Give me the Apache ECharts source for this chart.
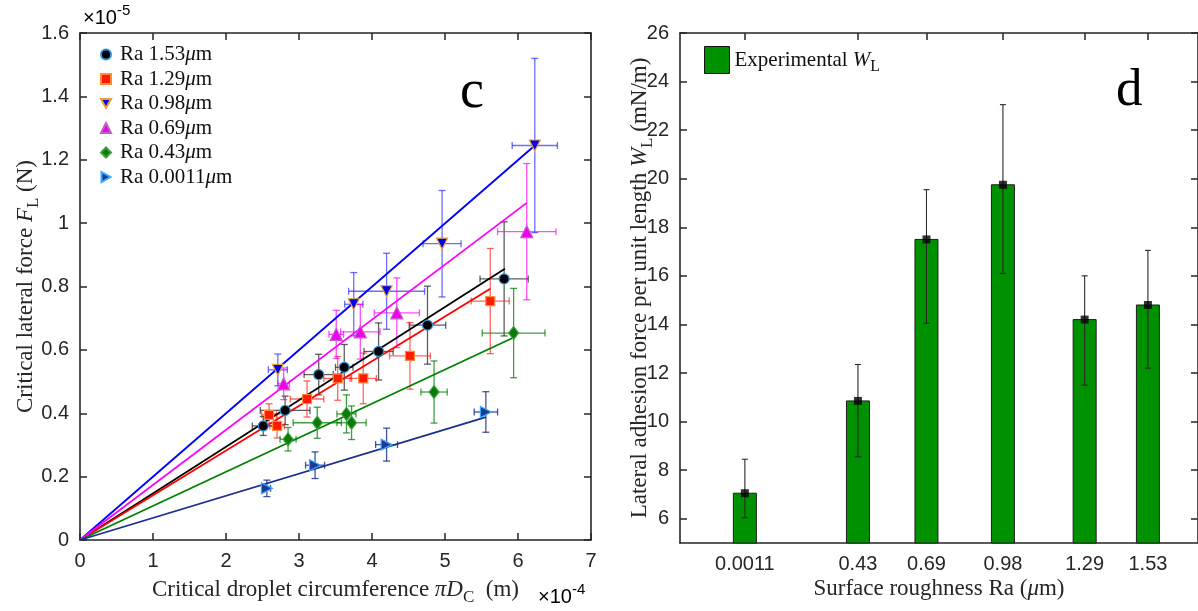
<!DOCTYPE html>
<html><head><meta charset="utf-8">
<script src="https://cdn.jsdelivr.net/npm/echarts@6/dist/echarts.min.js"></script>
<style>html,body{margin:0;padding:0;background:#fff}#c{width:1198px;height:611px}</style>
</head><body><div id="c"></div>
<script>
// ---------- data: panel c (x in 1e-4 m, y in 1e-5 N) ----------
const legendLabels = ['Ra 1.53μm','Ra 1.29μm','Ra 0.98μm','Ra 0.69μm','Ra 0.43μm','Ra 0.0011μm'];

const ra153X  = [2.51, 2.81, 3.27, 3.62, 4.09, 4.76, 5.81];
const ra153Y  = [0.360, 0.409, 0.522, 0.545, 0.595, 0.678, 0.824];
const ra153Ex = [0.15, 0.34, 0.20, 0.12, 0.20, 0.25, 0.33];
const ra153Ey = [0.030, 0.045, 0.064, 0.072, 0.090, 0.123, 0.180];

const ra129X  = [2.59, 2.70, 3.11, 3.53, 3.88, 4.52, 5.62];
const ra129Y  = [0.395, 0.360, 0.445, 0.510, 0.510, 0.581, 0.754];
const ra129Ex = [0.10, 0.10, 0.23, 0.19, 0.18, 0.28, 0.26];
const ra129Ey = [0.035, 0.038, 0.057, 0.069, 0.080, 0.105, 0.166];

const ra098X  = [2.71, 3.75, 4.20, 4.96, 6.23];
const ra098Y  = [0.537, 0.744, 0.785, 0.935, 1.245];
const ra098Ex = [0.13, 0.125, 0.52, 0.26, 0.31];
const ra098Ey = [0.050, 0.100, 0.120, 0.168, 0.275];

const ra069X  = [2.79, 3.51, 3.84, 4.34, 6.12];
const ra069Y  = [0.493, 0.649, 0.657, 0.717, 0.973];
const ra069Ex = [0.08, 0.10, 0.27, 0.31, 0.40];
const ra069Ey = [0.050, 0.076, 0.086, 0.110, 0.215];

const ra043X  = [2.85, 3.25, 3.65, 3.72, 4.85, 5.94];
const ra043Y  = [0.318, 0.370, 0.398, 0.370, 0.467, 0.653];
const ra043Ex = [0.11, 0.33, 0.13, 0.20, 0.18, 0.43];
const ra043Ey = [0.037, 0.049, 0.060, 0.053, 0.098, 0.141];

const ra0011X  = [2.56, 3.22, 4.20, 5.56];
const ra0011Y  = [0.163, 0.236, 0.301, 0.404];
const ra0011Ex = [0.05, 0.13, 0.15, 0.16];
const ra0011Ey = [0.026, 0.042, 0.052, 0.064];

// fitted lines through origin: end points
const fitEndX = [5.82, 5.62, 6.23, 6.12, 5.94, 5.56];
const fitEndY = [0.856, 0.793, 1.245, 1.064, 0.639, 0.388];

// ---------- data: panel d ----------
const raValues = [0.0011, 0.43, 0.69, 0.98, 1.29, 1.53];
const raLabels = ['0.0011','0.43','0.69','0.98','1.29','1.53'];
const wL     = [7.05, 10.85, 17.5, 19.75, 14.2, 14.8];
const wLLow  = [6.04, 8.55, 14.05, 16.1, 11.5, 12.2];
const wLHigh = [8.45, 12.35, 19.55, 23.05, 16.0, 17.05];
const yTicksD = [6,8,10,12,14,16,18,20,22,24,26];

// ---------- styling ----------
const SERIF = 'Liberation Serif';
const SANS = 'Liberation Sans';
const AX = '#262626';
const Y2MIN = 5, Y2MAX = 26;

const groupX = [ra153X, ra129X, ra098X, ra069X, ra043X, ra0011X];
const groupY = [ra153Y, ra129Y, ra098Y, ra069Y, ra043Y, ra0011Y];
const groupEx = [ra153Ex, ra129Ex, ra098Ex, ra069Ex, ra043Ex, ra0011Ex];
const groupEy = [ra153Ey, ra129Ey, ra098Ey, ra069Ey, ra043Ey, ra0011Ey];
const DOWN = 'path://M0,0L10,0L5,9Z';
const RIGHT = 'path://M0,0L9,5L0,10Z';
const styles = [
  {symbol:'circle',   icon:'circle',   size:10, rot:0,   fill:'#000000', edge:'#2f8fd8', err:'rgba(40,40,40,0.75)',  line:'#000000'},
  {symbol:'rect',     icon:'rect',     size:9,  rot:0,   fill:'#ff1a00', edge:'#ff8a3a', err:'rgba(255,20,20,0.65)', line:'#ff0000'},
  {symbol:'triangle', icon:DOWN,       size:11, rot:180, fill:'#0000ee', edge:'#e8a030', err:'rgba(30,30,255,0.65)', line:'#0000ff'},
  {symbol:'triangle', icon:'triangle', size:12, rot:0,   fill:'#ee00ee', edge:'#c060c0', err:'rgba(255,0,255,0.7)',  line:'#ff00ff'},
  {symbol:'diamond',  icon:'diamond',  size:[10,13], rot:0, fill:'#0b7a0b', edge:'#3aa03a', err:'rgba(0,128,0,0.75)', line:'#008000'},
  {symbol:'triangle', icon:RIGHT,      size:11, rot:-90, fill:'#1c3a96', edge:'#3aa8ff', err:'rgba(20,40,140,0.8)', line:'#1a2f8f'}
];

function errXY(color){
  return function(params, api){
    const x=api.value(0), y=api.value(1), ex=api.value(2), ey=api.value(3);
    const L=api.coord([x-ex,y]), R=api.coord([x+ex,y]), T=api.coord([x,y+ey]), B=api.coord([x,y-ey]);
    const c=3.5, st={stroke:color,lineWidth:1.3};
    const seg=(x1,y1,x2,y2)=>({type:'line',shape:{x1:x1,y1:y1,x2:x2,y2:y2},style:st});
    return {type:'group',children:[
      seg(L[0],L[1],R[0],R[1]), seg(T[0],T[1],B[0],B[1]),
      seg(L[0],L[1]-c,L[0],L[1]+c), seg(R[0],R[1]-c,R[0],R[1]+c),
      seg(T[0]-c,T[1],T[0]+c,T[1]), seg(B[0]-c,B[1],B[0]+c,B[1])
    ]};
  };
}

const series = [];
for (let g=0; g<6; g++){
  const s = styles[g];
  series.push({
    type:'custom', xAxisIndex:0, yAxisIndex:0, z:2, silent:true,
    renderItem: errXY(s.err),
    data: groupX[g].map((x,i)=>[x, groupY[g][i], groupEx[g][i], groupEy[g][i]])
  });
}
for (let g=0; g<6; g++){
  const s = styles[g];
  series.push({
    type:'line', xAxisIndex:0, yAxisIndex:0, z:3, symbol:'none', silent:true,
    lineStyle:{color:s.line, width:1.8},
    data:[[0,0],[fitEndX[g], fitEndY[g]]]
  });
}
for (let g=0; g<6; g++){
  const s = styles[g];
  series.push({
    name: legendLabels[g],
    type:'scatter', xAxisIndex:0, yAxisIndex:0, z:4,
    symbol:s.symbol, symbolSize:s.size, symbolRotate:s.rot,
    itemStyle:{color:s.fill, borderColor:s.edge, borderWidth:1.2, opacity:1},
    data: groupX[g].map((x,i)=>[x, groupY[g][i]])
  });
}

// panel d
series.push({
  name:'Experimental WL',
  type:'custom', xAxisIndex:2, yAxisIndex:2, z:2,
  itemStyle:{color:'#009100'},
  renderItem: function(params, api){
    const x=api.value(0), v=api.value(1);
    const top=api.coord([x,v]), base=api.coord([x,Y2MIN]);
    const w=23;
    return {type:'rect', shape:{x:top[0]-w/2, y:top[1], width:w, height:base[1]-top[1]},
      style:{fill:'#009100', stroke:'#1e1e1e', lineWidth:1}};
  },
  data: raValues.map((x,i)=>[x, wL[i]])
});
series.push({
  type:'custom', xAxisIndex:2, yAxisIndex:2, z:3, silent:true,
  renderItem: function(params, api){
    const x=api.value(0), lo=api.value(1), hi=api.value(2);
    const T=api.coord([x,hi]), B=api.coord([x,lo]);
    const c=3, st={stroke:'#2a2a2a', lineWidth:1.1};
    const seg=(x1,y1,x2,y2)=>({type:'line',shape:{x1:x1,y1:y1,x2:x2,y2:y2},style:st});
    return {type:'group', children:[seg(T[0],T[1],B[0],B[1]), seg(T[0]-c,T[1],T[0]+c,T[1]), seg(B[0]-c,B[1],B[0]+c,B[1])]};
  },
  data: raValues.map((x,i)=>[x, wLLow[i], wLHigh[i]])
});
series.push({
  type:'scatter', xAxisIndex:2, yAxisIndex:2, z:4, silent:true,
  symbol:'rect', symbolSize:8, itemStyle:{color:'#000000'},
  data: raValues.map((x,i)=>[x, wL[i]])
});

const axLine = {show:true, onZero:false, lineStyle:{color:AX, width:1.6}};
const axTick = {show:true, inside:true, length:7, lineStyle:{color:AX, width:1.5}};
const tickFont = {color:AX, fontFamily:SANS, fontSize:20};
const subRich = {
  n:{fontFamily:SERIF, fontSize:23, color:AX},
  i:{fontFamily:SERIF, fontSize:23, fontStyle:'italic', color:AX},
  sub:{fontFamily:SERIF, fontSize:17, color:AX, padding:[15,0,0,0]}
};

function nearestLabel(v){
  let best=0;
  for (let i=1;i<raValues.length;i++) if (Math.abs(raValues[i]-v)<Math.abs(raValues[best]-v)) best=i;
  return raLabels[best];
}

const option = {
  animation:false,
  backgroundColor:'#ffffff',
  grid:[
    {left:80, top:33, width:511, height:510},
    {left:680, top:33, width:519, height:510}
  ],
  legend:[
    {
      data: legendLabels.map((n,g)=>({name:n, icon:styles[g].icon})),
      orient:'vertical', left:100, top:44, padding:0,
      itemWidth:10, itemHeight:10, itemGap:3.5,
      formatter: n => '{p|}{n|' + n.replace('μ','}{i|μ}{n|') + '}',
      textStyle:{rich:{
        p:{width:4},
        n:{fontFamily:SERIF, fontSize:21, color:'#111', lineHeight:21},
        i:{fontFamily:SERIF, fontSize:21, fontStyle:'italic', color:'#111', lineHeight:21}
      }}
    },
    {
      data:[{name:'Experimental WL', icon:'rect', itemStyle:{color:'#009100', borderColor:'#111', borderWidth:1}}],
      left:704, top:46, padding:0, itemWidth:25, itemHeight:27, itemGap:0,
      formatter: () => '{n|Experimental }{i|W}{sub|L}',
      textStyle:{rich:{
        n:{fontFamily:SERIF, fontSize:21, color:'#111'},
        i:{fontFamily:SERIF, fontSize:21, fontStyle:'italic', color:'#111'},
        sub:{fontFamily:SERIF, fontSize:16, color:'#111', padding:[14,0,0,0]}
      }}
    }
  ],
  xAxis:[
    {gridIndex:0, type:'value', min:0, max:7, interval:1, position:'bottom',
     axisLine:axLine, axisTick:axTick, splitLine:{show:false},
     axisLabel:Object.assign({margin:11, formatter: v => String(v)}, tickFont),
     name:'{n|Critical droplet circumference }{i|πD}{sub|C}{n|  (m)}', nameLocation:'middle', nameGap:34,
     nameMoveOverlap:false, nameTextStyle:{rich:subRich}},
    {gridIndex:0, type:'value', min:0, max:7, interval:1, position:'top',
     axisLine:axLine, axisTick:axTick, axisLabel:{show:false}, splitLine:{show:false}},
    {gridIndex:1, type:'value', min:-0.245, max:1.72, position:'bottom',
     axisLine:axLine,
     axisTick:Object.assign({customValues:raValues}, axTick),
     axisLabel:Object.assign({margin:11, customValues:raValues, formatter:v => nearestLabel(v)}, tickFont),
     splitLine:{show:false},
     name:'{n|Surface roughness Ra (}{i|μ}{n|m)}', nameLocation:'middle', nameGap:34,
     nameMoveOverlap:false, nameTextStyle:{rich:subRich}},
    {gridIndex:1, type:'value', min:-0.245, max:1.72, position:'top',
     axisLine:axLine, axisTick:Object.assign({customValues:raValues}, axTick),
     axisLabel:{show:false}, splitLine:{show:false}}
  ],
  yAxis:[
    {gridIndex:0, type:'value', min:0, max:1.6, interval:0.2, position:'left',
     axisLine:axLine, axisTick:axTick, splitLine:{show:false},
     axisLabel:Object.assign({margin:11, formatter: v => String(parseFloat(v.toFixed(1)))}, tickFont),
     name:'{n|Critical lateral force }{i|F}{sub|L}{n| (N)}', nameLocation:'middle', nameGap:38, nameRotate:90,
     nameMoveOverlap:false, nameTextStyle:{rich:subRich}},
    {gridIndex:0, type:'value', min:0, max:1.6, interval:0.2, position:'right',
     axisLine:axLine, axisTick:axTick, axisLabel:{show:false}, splitLine:{show:false}},
    {gridIndex:1, type:'value', min:Y2MIN, max:Y2MAX, position:'left',
     axisLine:axLine, axisTick:Object.assign({customValues:yTicksD}, axTick), splitLine:{show:false},
     axisLabel:Object.assign({margin:11, customValues:yTicksD}, tickFont),
     name:'{n|Lateral adhesion force per unit length }{i|W}{sub|L}{n| (mN/m)}', nameLocation:'middle', nameGap:24, nameRotate:90,
     nameMoveOverlap:false, nameTextStyle:{rich:subRich}},
    {gridIndex:1, type:'value', min:Y2MIN, max:Y2MAX, position:'right',
     axisLine:axLine, axisTick:Object.assign({customValues:yTicksD}, axTick), axisLabel:{show:false}, splitLine:{show:false}}
  ],
  graphic:[
    {type:'text', left:460, top:66, style:{text:'c', font:'54px "Liberation Serif"', fill:'#000'}},
    {type:'text', left:1116, top:65, style:{text:'d', font:'53px "Liberation Serif"', fill:'#000'}},
    {type:'text', left:83, top:3, style:{text:'{a|×10}{b|-5}', rich:{
      a:{fontFamily:SANS, fontSize:20, color:AX, padding:[8,0,0,0]},
      b:{fontFamily:SANS, fontSize:15, color:AX, padding:[0,0,8,0]}}}},
    {type:'text', left:538, top:582, style:{text:'{a|×10}{b|-4}', rich:{
      a:{fontFamily:SANS, fontSize:20, color:AX, padding:[8,0,0,0]},
      b:{fontFamily:SANS, fontSize:15, color:AX, padding:[0,0,8,0]}}}}
  ],
  series: series
};

const chart = echarts.init(document.getElementById('c'));
chart.setOption(option);
</script>
</body></html>
